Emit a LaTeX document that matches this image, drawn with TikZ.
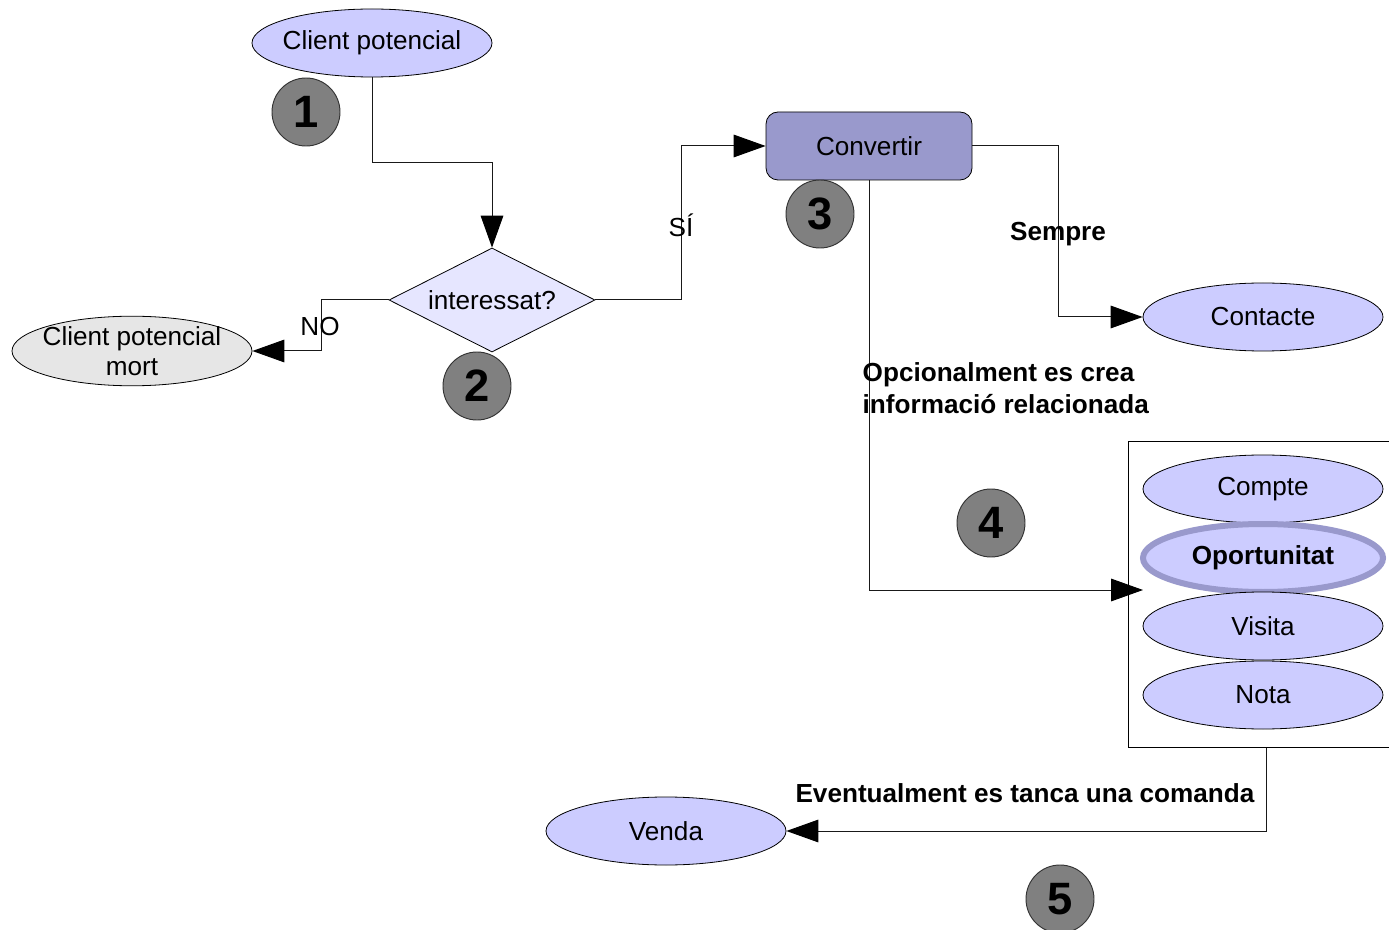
\documentclass[tikz,border=0pt]{standalone}
\usepackage{fontspec}
\setmainfont{Liberation Sans}
\usetikzlibrary{shapes.geometric,arrows.meta}
\definecolor{lav}{HTML}{CCCCFF}
\definecolor{lavlight}{HTML}{E6E6FF}
\definecolor{convfill}{HTML}{9999CC}
\definecolor{deadfill}{HTML}{E6E6E6}
\definecolor{numfill}{HTML}{808080}
\begin{document}
\begin{tikzpicture}[x=0.75pt,y=-0.75pt,
  every node/.style={font=\fontsize{19.6}{24}\selectfont},
  oval/.style={ellipse,draw,fill=lav,minimum width=180pt,minimum height=51pt,inner sep=0pt,inner xsep=-5pt,line width=0.6pt},
  numcirc/.style={circle,draw=black!80,fill=numfill,minimum size=51pt,inner sep=0pt,line width=0.7pt,font=\fontsize{34}{34}\bfseries\selectfont},
  conn/.style={draw=black!90,line width=0.75pt},
  arr/.style={conn,-{Triangle[length=24pt,width=17pt,color=black]}},
  lbl/.style={font=\fontsize{19.6}{24}\bfseries\selectfont}]
\path[use as bounding box,clip] (0,0) rectangle (1389,930);
\fill[white] (0,0) rectangle (1389,930);

% group box
\node[draw,line width=0.6pt,minimum width=200pt,minimum height=230pt,inner sep=0pt] (grp) at (1262,594.5) {};

% nodes
\node[oval] (cp) at (372,43) {Client potencial};
\node[numcirc] (n1) at (306,112) {1};
\node[diamond,draw,fill=lavlight,minimum width=154.5pt,minimum height=78pt,inner sep=0pt,aspect=2,line width=0.6pt] (dia) at (492,300) {interessat?};
\node[numcirc] (n2) at (477,386) {2};
\node[oval,fill=deadfill,align=center,font=\fontsize{19.6}{22.5}\selectfont] (mort) at (132,351) {Client potencial\\mort};
\node[draw,fill=convfill,rounded corners=9pt,minimum width=154.5pt,minimum height=51pt,inner sep=0pt,line width=0.6pt] (conv) at (869,146) {Convertir};
\node[numcirc] (n3) at (820,214) {3};
\node[oval] (cont) at (1263,317) {Contacte};
\node[numcirc] (n4) at (991,523) {4};
\node[oval] (comp) at (1263,489) {Compte};
\node[oval,draw=convfill,line width=4.5pt,font=\fontsize{19.6}{24}\bfseries\selectfont] (opor) at (1263,558) {Oportunitat};
\node[oval] (vis) at (1263,626) {Visita};
\node[oval] (nota) at (1263,695) {Nota};
\node[oval] (venda) at (666,831) {Venda};
\node[numcirc] (n5) at (1060,899) {5};

% helper coordinates
\coordinate (noX) at (321,0);
\coordinate (siX) at (681,0);
\coordinate (sX) at (1058,0);
\coordinate (optEnd) at (1143,590);
\coordinate (evX) at (1266,0);

% connectors
\draw[arr] (cp.south) -- ++(0,85) -| (dia.north);
\draw[arr] (dia.west) -| (noX |- mort.east) -- (mort.east);
\draw[arr] (dia.east) -| (siX |- conv.west) -- (conv.west);
\draw[arr] (conv.east) -| (sX |- cont.west) -- (cont.west);
\draw[arr] (conv.south) |- (optEnd);
\draw[arr] (evX |- grp.south) |- (venda.east);

% labels
\node (lno) at (320,327) {NO};
\node (lsi) at (681,225) {SÍ};
\node[lbl] (lsem) at (1058,234) {Sempre};
\node[lbl,align=left,anchor=west] (lopt) at (858,388) {Opcionalment es crea\\informació relacionada};
\node[lbl] (lev) at (1025,793) {Eventualment es tanca una comanda};
\end{tikzpicture}
\end{document}
